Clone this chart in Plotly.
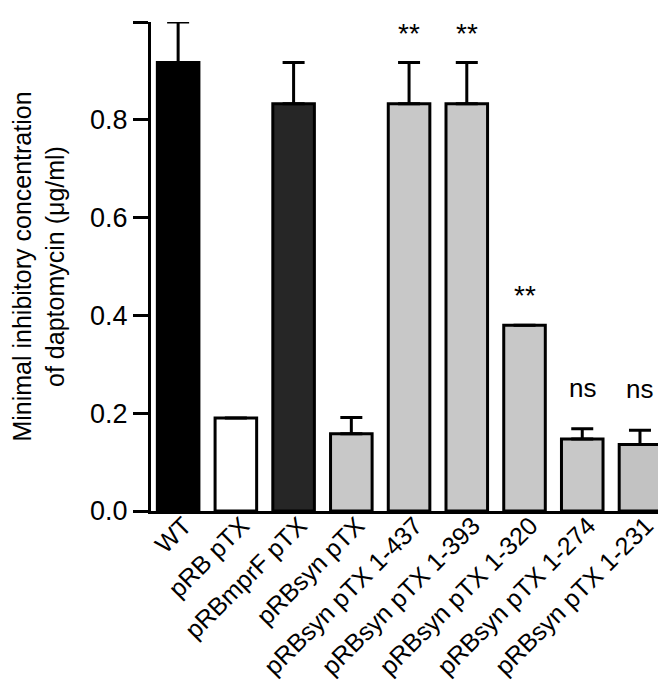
import plotly.graph_objects as go

categories = ["WT", "pRB pTX", "pRBmprF pTX", "pRBsyn pTX", "pRBsyn pTX 1-437",
              "pRBsyn pTX 1-393", "pRBsyn pTX 1-320", "pRBsyn pTX 1-274", "pRBsyn pTX 1-231"]
mic_mean = [0.917, 0.19, 0.833, 0.158, 0.833, 0.833, 0.38, 0.147, 0.136]
mic_err = [0.083, 0.0, 0.084, 0.033, 0.084, 0.084, 0.0, 0.021, 0.029]
significance = ["", "", "", "", "**", "**", "**", "ns", "ns"]
bar_colors = ["#000000", "#ffffff", "#262626", "#c8c8c8", "#c8c8c8",
              "#c8c8c8", "#c8c8c8", "#c8c8c8", "#c2c2c2"]

FONT = "Liberation Sans, Arial, sans-serif"

fig = go.Figure()
fig.add_trace(go.Bar(
    x=categories, y=mic_mean,
    marker=dict(color=bar_colors, line=dict(color="black", width=3)),
    width=0.72,
    error_y=dict(type="data", symmetric=False, array=mic_err,
                 arrayminus=[0] * len(mic_err), color="black",
                 thickness=3, width=11),
    showlegend=False,
))

for c, m, e, s in zip(categories, mic_mean, mic_err, significance):
    if s:
        fig.add_annotation(
            x=c, y=m + e, text=s, showarrow=False, yanchor="bottom",
            yshift=12 if s == "**" else 24,
            font=dict(family=FONT, size=28 if s == "**" else 26, color="black"),
        )

fig.update_layout(
    width=666, height=684,
    margin=dict(l=143, r=4, t=14, b=181),
    paper_bgcolor="white", plot_bgcolor="white",
    font=dict(family=FONT, color="black"),
)
fig.update_xaxes(
    range=[-0.47, 8.52], showline=True, linewidth=3, linecolor="black",
    ticks="", tickangle=-45, tickfont=dict(family=FONT, size=25),
    ticklabelstandoff=-13, ticklabelshift=6,
    showgrid=False, zeroline=False,
)
fig.update_yaxes(
    range=[0, 1.0], tickvals=[0, 0.2, 0.4, 0.6, 0.8, 1.0],
    ticktext=["0.0", "0.2", "0.4", "0.6", "0.8", "1.0"],
    showline=True, linewidth=3, linecolor="black",
    ticks="outside", ticklen=15, tickwidth=3, tickcolor="black",
    tickfont=dict(family=FONT, size=27),
    showgrid=False, zeroline=False,
    title=dict(text="Minimal inhibitory concentration<br>of daptomycin (μg/ml)",
               font=dict(family=FONT, size=25), standoff=19),
)

fig.write_html("out.html")
